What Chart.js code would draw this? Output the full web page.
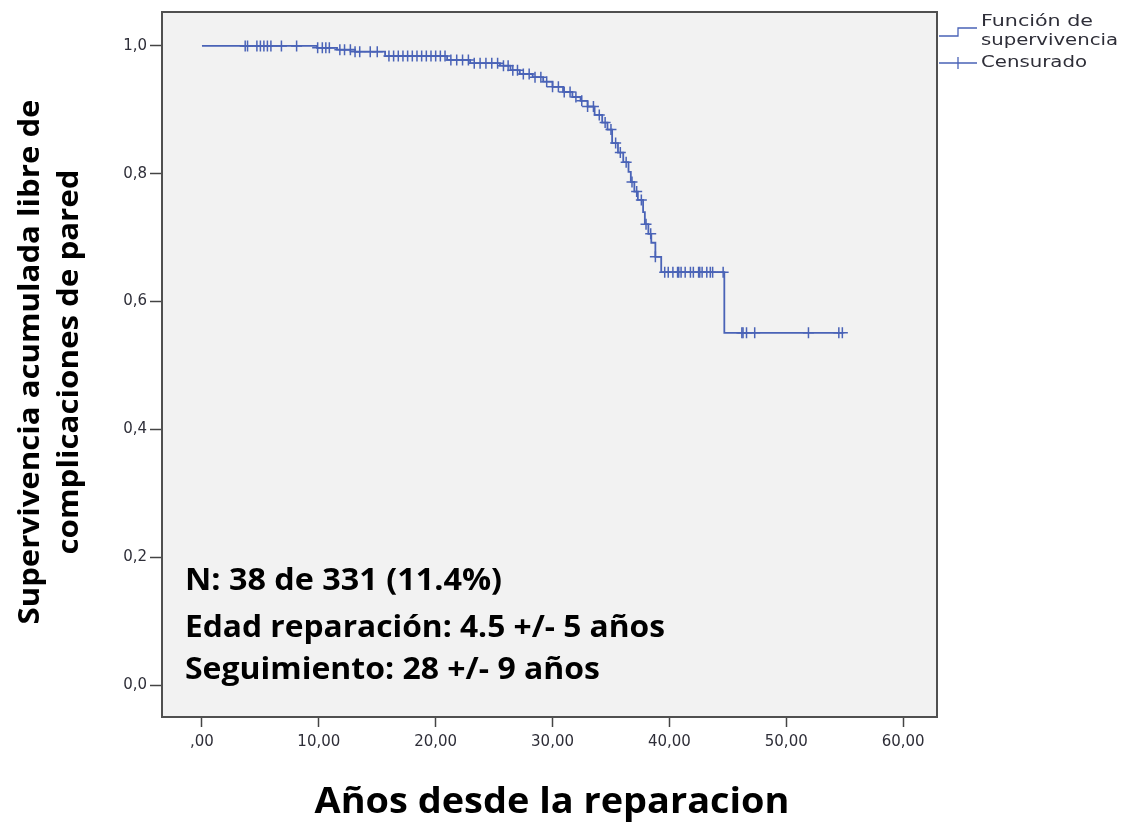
<!DOCTYPE html>
<html lang="es">
<head>
<meta charset="UTF-8">
<title>Supervivencia libre de complicaciones de pared</title>
<script src="https://cdn.jsdelivr.net/npm/chart.js"></script>
<style>
  body { margin: 0; background: #fff; }
  #wrap { width: 1125px; height: 823px; }
</style>
</head>
<body>
<div id="wrap"><canvas id="kmChart" width="1125" height="823"></canvas></div>
<script>
// Kaplan-Meier: tiempos de evento (años) y supervivencia acumulada tras cada evento
const eventTimes = [0, 9.85, 11.56, 13.1, 15.67, 20.98, 22.95, 25.5, 26.4, 27.2, 28.3, 29.2, 30.0, 30.9, 31.7,
  32.4, 33.0, 33.6, 34.25, 34.7, 35.1, 35.6, 36.05, 36.5, 36.7, 37.0, 37.3, 37.75, 37.9, 38.2, 38.45, 38.8,
  39.3, 44.7, 54.8];
const survival = [1.000, 0.997, 0.994, 0.991, 0.984, 0.978, 0.973, 0.969, 0.962, 0.956, 0.951, 0.944, 0.936,
  0.928, 0.920, 0.914, 0.905, 0.892, 0.880, 0.869, 0.848, 0.833, 0.818, 0.803, 0.787, 0.772, 0.759, 0.740,
  0.721, 0.706, 0.692, 0.670, 0.646, 0.551, 0.551];

// casos censurados (años)
const censoredTimes = [3.7, 3.9, 4.7, 5.0, 5.3, 5.6, 5.9, 6.8, 8.1, 9.9, 10.3, 10.6, 10.9, 11.8, 12.2, 12.7,
  13.1, 13.5, 14.4, 15.0, 16.0, 16.4, 16.8, 17.2, 17.6, 18.0, 18.4, 18.8, 19.2, 19.6, 20.0, 20.4, 20.8, 21.3,
  21.8, 22.3, 22.8, 23.3, 23.8, 24.3, 24.8, 25.3, 25.8, 26.2, 26.6, 27.0, 27.5, 28.0, 28.5, 29.0, 29.5, 30.0,
  30.5, 31.0, 31.5, 32.0, 32.5, 33.0, 33.5, 34.0, 34.5, 35.0, 35.4, 35.8, 36.3, 36.8, 37.2, 37.6, 38.0, 38.4,
  38.8, 39.6, 39.9, 40.3, 40.7, 40.8, 41.0, 41.35, 41.8, 42.05, 42.5, 42.6, 42.8, 43.2, 43.5, 43.7, 44.6,
  46.2, 46.3, 46.6, 47.3, 51.9, 54.5, 54.8];

const xTicks = [0, 10, 20, 30, 40, 50, 60];
const xTickLabels = [',00', '10,00', '20,00', '30,00', '40,00', '50,00', '60,00'];
const yTicks = [0, 0.2, 0.4, 0.6, 0.8, 1.0];
const yTickLabels = ['0,0', '0,2', '0,4', '0,6', '0,8', '1,0'];

const yTitle = ['Supervivencia acumulada libre de', 'complicaciones de pared'];
const xTitle = 'Años desde la reparacion';
const notes = ['N: 38 de 331 (11.4%)', 'Edad reparación: 4.5 +/- 5 años', 'Seguimiento: 28 +/- 9 años'];
const legendLabels = [['Función de', 'supervivencia'], ['Censurado']];

const BLUE = '#4a63b7';
const INK = '#2e2e38';

function survivalAt(t) {
  let s = survival[0];
  for (let i = 0; i < eventTimes.length; i++) {
    if (eventTimes[i] <= t) s = survival[i];
  }
  return s;
}

const curvePoints = eventTimes.map((t, i) => ({ x: t, y: survival[i] }));
const censorPoints = censoredTimes.map(t => ({ x: t, y: survivalAt(t) }));

// dibuja texto ajustado a un ancho dado (compresión horizontal)
function fitText(ctx, text, x, y, width, align) {
  const w = ctx.measureText(text).width;
  const k = width / w;
  ctx.save();
  ctx.translate(x, y);
  ctx.scale(k, 1);
  ctx.textAlign = align || 'left';
  ctx.fillText(text, 0, 0);
  ctx.restore();
}

const framePlugin = {
  id: 'frame',
  beforeDraw(chart) {
    const { ctx, chartArea: a } = chart;
    ctx.save();
    ctx.fillStyle = '#f2f2f2';
    ctx.fillRect(a.left, a.top, a.right - a.left, a.bottom - a.top);
    ctx.restore();
  },
  afterDraw(chart) {
    const { ctx, chartArea: a } = chart;
    ctx.save();
    ctx.strokeStyle = '#505050';
    ctx.lineWidth = 2;
    ctx.strokeRect(a.left, a.top, a.right - a.left, a.bottom - a.top);

    // títulos de ejes
    ctx.fillStyle = '#000';
    ctx.textBaseline = 'middle';
    ctx.font = 'bold 29px "Open Sans"';
    ctx.save();
    ctx.translate(31, 362);
    ctx.rotate(-Math.PI / 2);
    fitText(ctx, yTitle[0], 0, 0, 525, 'center');
    ctx.restore();
    ctx.save();
    ctx.translate(70, 362);
    ctx.rotate(-Math.PI / 2);
    fitText(ctx, yTitle[1], 0, 0, 385, 'center');
    ctx.restore();
    ctx.font = 'bold 35px "Open Sans"';
    fitText(ctx, xTitle, 552, 803, 475, 'center');

    // texto de resumen
    ctx.font = 'bold 30px "Open Sans"';
    const noteY = [581, 628, 670];
    const noteW = [317, 480, 415];
    notes.forEach((n, i) => fitText(ctx, n, 185, noteY[i], noteW[i], 'left'));

    // leyenda
    ctx.strokeStyle = BLUE;
    ctx.lineWidth = 1.3;
    ctx.beginPath();
    ctx.moveTo(939, 36); ctx.lineTo(958, 36); ctx.lineTo(958, 28); ctx.lineTo(977, 28);
    ctx.moveTo(939, 63); ctx.lineTo(977, 63);
    ctx.moveTo(958, 57); ctx.lineTo(958, 69);
    ctx.stroke();
    ctx.fillStyle = INK;
    ctx.font = '16px "DejaVu Sans"';
    fitText(ctx, legendLabels[0][0], 981, 22, 112, 'left');
    fitText(ctx, legendLabels[0][1], 981, 41, 137, 'left');
    fitText(ctx, legendLabels[1][0], 981, 63, 106, 'left');
    ctx.restore();
  }
};

new Chart(document.getElementById('kmChart'), {
  type: 'scatter',
  data: {
    datasets: [
      {
        label: 'Función de supervivencia',
        data: curvePoints,
        showLine: true,
        stepped: 'before',
        borderColor: BLUE,
        borderWidth: 1.8,
        pointRadius: 0,
        fill: false
      },
      {
        label: 'Censurado',
        data: censorPoints,
        showLine: false,
        pointStyle: 'cross',
        pointRadius: 5.5,
        borderColor: BLUE,
        borderWidth: 1.5,
        backgroundColor: BLUE
      }
    ]
  },
  options: {
    responsive: false,
    animation: false,
    devicePixelRatio: 1,
    layout: { padding: { top: 12, right: 188, left: 0, bottom: 0 } },
    plugins: {
      legend: { display: false },
      tooltip: { enabled: false }
    },
    scales: {
      x: {
        type: 'linear',
        min: -3.42,
        max: 62.9,
        afterBuildTicks: s => { s.ticks = xTicks.map(v => ({ value: v })); },
        afterFit: s => { s.height = 106; },
        ticks: {
          callback: (v, i) => xTickLabels[i],
          font: { family: 'DejaVu Sans', size: 15 },
          color: INK,
          padding: 6,
          maxRotation: 0
        },
        grid: { drawOnChartArea: false, drawTicks: true, tickLength: 10, color: '#444', tickWidth: 1.5 },
        border: { display: false }
      },
      y: {
        type: 'linear',
        min: -0.05,
        max: 1.053,
        afterBuildTicks: s => { s.ticks = yTicks.map(v => ({ value: v })); },
        afterFit: s => { s.width = 162; },
        ticks: {
          callback: (v, i) => yTickLabels[i],
          font: { family: 'DejaVu Sans', size: 15 },
          color: INK,
          padding: 3
        },
        grid: { drawOnChartArea: false, drawTicks: true, tickLength: 12, color: '#444', tickWidth: 1.5 },
        border: { display: false }
      }
    }
  },
  plugins: [framePlugin]
});
</script>
</body>
</html>
